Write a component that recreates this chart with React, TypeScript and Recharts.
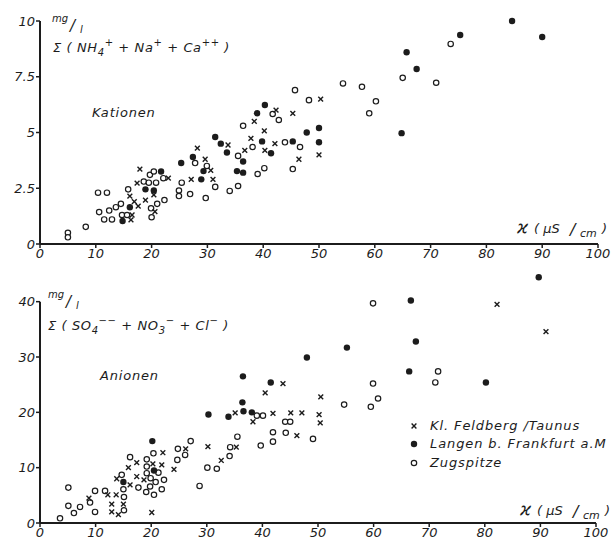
import React from "react";
import {
  ScatterChart,
  Scatter,
  XAxis,
  YAxis,
  ReferenceLine,
} from "recharts";

// Conductivity (µS/cm) vs. summed ion concentration (mg/l) at three stations.
// Top panel: cations, bottom panel: anions.

const INK = "#1c1c1c";
const FONT = "'DejaVu Sans', sans-serif";

const X_TICKS = [0, 10, 20, 30, 40, 50, 60, 70, 80, 90, 100];
const KAT_TICKS = [0, 2.5, 5, 7.5, 10];
const AN_TICKS = [0, 10, 20, 30, 40];

// Kationen — Σ(NH4+ + Na+ + Ca++)
const katFeldberg: [number, number][] = [
  [16.5, 1.3], [16.3, 1.08], [16.1, 2.15], [17.6, 1.7], [16.9, 1.9], [17.4, 2.73],
  [17.9, 3.36], [18.9, 1.97], [20.4, 2.2], [20.6, 1.45], [23.0, 2.95], [27.1, 2.9],
  [28.2, 4.3], [29.6, 3.8], [30.6, 3.3], [31.0, 2.9], [33.7, 4.44], [36.7, 4.2],
  [37.8, 4.74], [38.4, 5.5], [40.2, 5.07], [40.3, 4.2], [42.3, 6.0], [42.1, 4.5],
  [45.3, 5.86], [46.4, 3.8], [50.0, 4.0], [50.3, 6.5],
];
const katLangen: [number, number][] = [
  [14.8, 1.03], [16.1, 1.65], [18.9, 2.45], [20.4, 2.4], [21.7, 3.25], [25.3, 3.63],
  [27.4, 3.9], [28.9, 2.9], [29.3, 3.27], [31.4, 4.8], [32.4, 4.5], [33.5, 4.1],
  [35.3, 3.27], [36.4, 3.2], [36.4, 3.7], [38.9, 5.86], [39.8, 4.6], [40.3, 6.23],
  [41.4, 4.07], [45.3, 4.6], [47.8, 5.0], [50.0, 5.2], [50.0, 4.56], [64.8, 4.97],
  [65.7, 8.6], [67.5, 7.85], [75.3, 9.37], [84.6, 10.0], [90.0, 9.28],
];
const katZugspitze: [number, number][] = [
  [5.0, 0.5], [5.0, 0.3], [8.2, 0.77], [10.4, 2.3], [12.0, 2.3], [10.6, 1.43],
  [11.5, 1.1], [12.9, 1.1], [12.4, 1.5], [13.6, 1.65], [14.5, 1.8], [14.7, 1.3],
  [15.6, 1.3], [15.8, 2.45], [18.6, 2.8], [19.7, 3.1], [20.4, 3.25], [19.5, 2.75],
  [20.8, 2.75], [19.9, 1.6], [21.0, 1.8], [20.0, 1.2], [22.1, 2.95], [22.3, 1.97],
  [25.4, 2.75], [24.9, 2.4], [24.9, 2.15], [26.9, 2.24], [27.8, 3.63], [29.9, 3.5],
  [29.7, 2.06], [31.4, 2.56], [34.0, 2.38], [35.5, 2.6], [36.4, 5.3], [35.5, 3.95],
  [38.1, 4.35], [39.0, 3.14], [40.2, 3.4], [41.7, 5.83], [42.8, 5.56], [43.9, 4.56],
  [45.7, 6.9], [46.6, 4.35], [45.3, 3.36], [48.2, 6.45], [54.3, 7.2], [57.7, 7.05],
  [59.0, 5.86], [60.2, 6.4], [65.0, 7.45], [71.0, 7.23], [73.6, 8.97],
];

// Anionen — Σ(SO4-- + NO3- + Cl-)
const anFeldberg: [number, number][] = [
  [8.8, 4.5], [12.2, 5.1], [12.9, 3.4], [12.9, 2.0], [13.8, 8.0], [13.7, 5.1],
  [14.1, 1.5], [15.0, 3.4], [15.9, 10.0], [16.2, 6.9], [17.4, 10.9], [17.4, 8.4],
  [18.7, 7.8], [20.3, 10.7], [20.1, 1.9], [21.9, 10.5], [22.1, 12.7], [24.1, 9.7],
  [26.2, 13.4], [30.2, 13.8], [32.6, 11.3], [35.1, 19.9], [35.3, 13.7], [38.3, 18.3],
  [40.5, 23.5], [41.9, 19.8], [43.7, 25.2], [45.1, 19.9], [46.2, 15.8], [47.1, 19.9],
  [50.5, 22.8], [50.2, 19.6], [50.4, 18.1], [82.2, 39.5], [91.0, 34.6],
];
const anLangen: [number, number][] = [
  [15.0, 7.4], [20.2, 14.8], [20.5, 9.5], [30.3, 19.6], [33.9, 19.2], [36.5, 26.5],
  [36.4, 21.8], [36.6, 20.2], [38.1, 20.0], [41.5, 25.4], [48.0, 29.9], [55.2, 31.7],
  [66.7, 40.2], [67.6, 32.8], [66.4, 27.4], [80.2, 25.4], [89.7, 44.4],
];
const anZugspitze: [number, number][] = [
  [3.6, 0.85], [5.1, 6.4], [5.1, 3.1], [6.1, 1.8], [7.2, 2.9], [9.0, 3.7],
  [9.9, 5.8], [9.9, 2.0], [11.7, 5.8], [14.7, 8.7], [15.1, 4.7], [15.0, 6.1],
  [15.1, 2.3], [16.2, 11.9], [17.7, 6.4], [19.2, 11.5], [19.2, 10.2], [19.2, 9.0],
  [19.1, 5.6], [19.8, 6.6], [19.9, 8.1], [20.4, 12.6], [20.5, 5.1], [20.8, 7.4],
  [21.3, 9.1], [21.9, 6.1], [22.3, 7.8], [24.7, 11.4], [24.8, 13.4], [26.1, 12.3],
  [27.1, 14.8], [28.7, 6.7], [30.1, 10.0], [31.8, 9.8], [34.1, 12.1], [34.2, 13.7],
  [35.5, 15.6], [39.0, 19.4], [40.1, 19.4], [39.7, 14.0], [41.9, 16.4], [41.9, 14.7],
  [44.2, 16.3], [44.1, 18.3], [45.0, 18.3], [49.1, 15.2], [54.7, 21.4], [59.9, 39.7],
  [59.9, 25.2], [59.5, 21.0], [60.8, 22.5], [71.6, 27.4], [71.1, 25.4],
];

const STATIONS = ["Kl. Feldberg /Taunus", "Langen b. Frankfurt a.M", "Zugspitze"];

const pts = (a: [number, number][]) => a.map(([x, y]) => ({ x, y }));

// marker glyphs
function CrossMark(p: any) {
  const s = 2.4;
  return (
    <g stroke={INK} strokeWidth={1.4}>
      <line x1={p.cx - s} y1={p.cy - s} x2={p.cx + s} y2={p.cy + s} />
      <line x1={p.cx - s} y1={p.cy + s} x2={p.cx + s} y2={p.cy - s} />
    </g>
  );
}
function FilledMark(p: any) {
  return <circle cx={p.cx} cy={p.cy} r={3.2} fill={INK} />;
}
function OpenMark(p: any) {
  return <circle cx={p.cx} cy={p.cy} r={2.7} fill="#fff" stroke={INK} strokeWidth={1.2} />;
}

const tickStyle = { fontFamily: FONT, fontStyle: "italic", fontSize: 13, fill: INK };
const fmtY = (v: number) => String(v);

// text with sub/superscript parts: shift 1 = sub, -1 = super
function Formula({ x, y, parts }: { x: number; y: number; parts: [string, number][] }) {
  let cur = 0;
  return (
    <text x={x} y={y} fontFamily={FONT} fontStyle="italic" fontSize={13} fill={INK} letterSpacing={0.6}>
      {parts.map(([t, s], i) => {
        const off = s === 1 ? 4 : s === -1 ? -6 : 0;
        const dy = off - cur;
        cur = off;
        return (
          <tspan key={i} dy={dy} fontSize={s ? 10 : 13}>
            {t}
          </tspan>
        );
      })}
    </text>
  );
}

function Unit({ x, y }: { x: number; y: number }) {
  return (
    <g fontFamily={FONT} fontStyle="italic" fill={INK}>
      <text x={x} y={y} fontSize={10}>mg</text>
      <text x={x + 18} y={y + 9} fontSize={15}>/</text>
      <text x={x + 28} y={y + 11} fontSize={10}>l</text>
    </g>
  );
}

function Kappa({ x, y }: { x: number; y: number }) {
  return (
    <g fontFamily={FONT} fontStyle="italic" fill={INK}>
      <text x={x} y={y} fontSize={17}>ϰ</text>
      <text x={x + 17} y={y} fontSize={13}>( µS</text>
      <text x={x + 53} y={y + 2} fontSize={16}>/</text>
      <text x={x + 63} y={y + 4} fontSize={11}>cm</text>
      <text x={x + 85} y={y} fontSize={13}>)</text>
    </g>
  );
}

function Panel({
  top,
  height,
  margin,
  domain,
  ticks,
  series,
}: {
  top: number;
  height: number;
  margin: { top: number; right: number; bottom: number; left: number };
  domain: [number, number];
  ticks: number[];
  series: [number, number][][];
}) {
  const axisTop = ticks[ticks.length - 1];
  return (
    <div style={{ position: "absolute", left: 0, top }}>
      <ScatterChart width={616} height={height} margin={margin}>
        <XAxis
          type="number"
          dataKey="x"
          domain={[0, 100]}
          ticks={X_TICKS}
          height={20}
          tick={tickStyle}
          tickSize={4}
          tickMargin={1}
          axisLine={{ stroke: INK, strokeWidth: 2 }}
          tickLine={{ stroke: INK, strokeWidth: 1.5 }}
        />
        <YAxis
          type="number"
          dataKey="y"
          domain={domain}
          ticks={ticks}
          width={30}
          tick={tickStyle}
          tickFormatter={fmtY}
          tickSize={4}
          tickMargin={1}
          axisLine={false}
          tickLine={{ stroke: INK, strokeWidth: 1.5 }}
        />
        <ReferenceLine
          segment={[
            { x: 0, y: 0 },
            { x: 0, y: axisTop },
          ]}
          stroke={INK}
          strokeWidth={2}
        />
        <Scatter data={pts(series[2])} shape={OpenMark} isAnimationActive={false} />
        <Scatter data={pts(series[0])} shape={CrossMark} isAnimationActive={false} />
        <Scatter data={pts(series[1])} shape={FilledMark} isAnimationActive={false} />
      </ScatterChart>
    </div>
  );
}

export default function App() {
  const legendY = [430, 448, 467];
  return (
    <div
      style={{
        position: "absolute",
        left: 0,
        top: 0,
        width: 616,
        height: 545,
        background: "#fff",
      }}
    >
      <Panel
        top={0}
        height={270}
        margin={{ top: 21, right: 18, bottom: 6, left: 10 }}
        domain={[0, 10]}
        ticks={KAT_TICKS}
        series={[katFeldberg, katLangen, katZugspitze]}
      />
      <Panel
        top={270}
        height={275}
        margin={{ top: 4, right: 20, bottom: 2, left: 10 }}
        domain={[0, 45]}
        ticks={AN_TICKS}
        series={[anFeldberg, anLangen, anZugspitze]}
      />
      <svg
        width={616}
        height={545}
        style={{ position: "absolute", left: 0, top: 0, pointerEvents: "none" }}
      >
        <Unit x={52} y={22} />
        <Formula
          x={53}
          y={52}
          parts={[
            ["Σ ( NH", 0], ["4", 1], ["+", -1], [" + Na", 0], ["+", -1],
            [" + Ca", 0], ["++", -1], [" )", 0],
          ]}
        />
        <text x={92} y={117} fontFamily={FONT} fontStyle="italic" fontSize={13} fill={INK} letterSpacing={0.8}>
          Kationen
        </text>
        <Kappa x={517} y={233} />

        <Unit x={48} y={298} />
        <Formula
          x={48}
          y={330}
          parts={[
            ["Σ ( SO", 0], ["4", 1], ["−−", -1], [" + NO", 0], ["3", 1], ["−", -1],
            [" + Cl", 0], ["−", -1], [" )", 0],
          ]}
        />
        <text x={100} y={380} fontFamily={FONT} fontStyle="italic" fontSize={13} fill={INK} letterSpacing={0.8}>
          Anionen
        </text>
        <Kappa x={520} y={515} />

        <CrossMark cx={414} cy={legendY[0] - 4} />
        <FilledMark cx={414} cy={legendY[1] - 4} />
        <OpenMark cx={414} cy={legendY[2] - 4} />
        {STATIONS.map((s, i) => (
          <text
            key={s}
            x={430}
            y={legendY[i]}
            fontFamily={FONT}
            fontStyle="italic"
            fontSize={13}
            fill={INK}
            letterSpacing={0.9}
          >
            {s}
          </text>
        ))}
      </svg>
    </div>
  );
}
